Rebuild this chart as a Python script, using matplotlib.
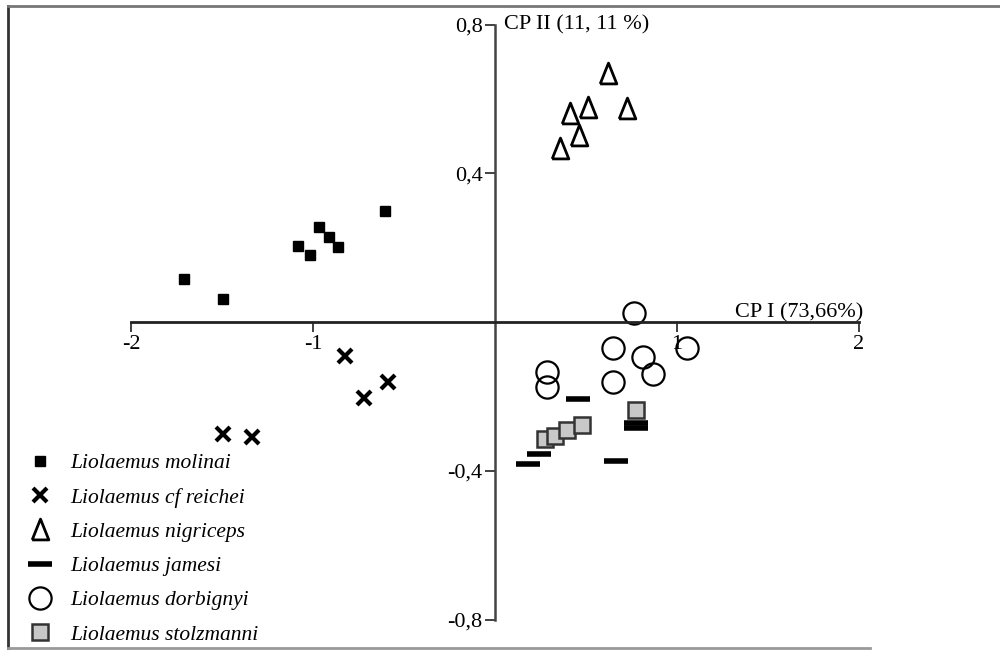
import matplotlib.pyplot as plt
from matplotlib.lines import Line2D

# ============================================================
# DATOS (CP I, CP II)
# ============================================================

molinai_x = [-1.709, -1.495, -1.082, -1.016, -0.967, -0.912, -0.863, -0.604]
molinai_y = [0.116, 0.062, 0.204, 0.180, 0.255, 0.228, 0.202, 0.298]

reichei_x = [-0.824, -0.588, -0.720, -1.495, -1.335]
reichei_y = [-0.091, -0.161, -0.204, -0.301, -0.309]

nigriceps_x = [0.621, 0.511, 0.412, 0.462, 0.357, 0.725]
nigriceps_y = [0.669, 0.578, 0.562, 0.503, 0.468, 0.575]

jamesi_x = [0.456, 0.775, 0.775, 0.242, 0.181, 0.665]
jamesi_y = [-0.207, -0.272, -0.285, -0.355, -0.382, -0.374]

dorbignyi_x = [0.764, 0.648, 0.813, 0.868, 0.648, 0.286, 0.286, 1.055]
dorbignyi_y = [0.024, -0.070, -0.094, -0.140, -0.161, -0.134, -0.175, -0.070]

stolzmanni_x = [0.275, 0.330, 0.396, 0.478, 0.775]
stolzmanni_y = [-0.313, -0.305, -0.290, -0.277, -0.237]

x_ticks = [-2, -1, 1, 2]
x_tick_labels = ["-2", "-1", "1", "2"]
y_ticks = [0.8, 0.4, -0.4, -0.8]
y_tick_labels = ["0,8", "0,4", "-0,4", "-0,8"]

species = [
    "Liolaemus molinai",
    "Liolaemus cf reichei",
    "Liolaemus nigriceps",
    "Liolaemus jamesi",
    "Liolaemus dorbignyi",
    "Liolaemus stolzmanni",
]

# ============================================================
# ESTILOS DE MARCADORES
# ============================================================

tri = [(-0.8, -1), (0.8, -1), (0, 1), (-0.8, -1)]  # triángulo algo estrecho

estilos = [
    dict(marker="s", ms=7, color="black"),
    dict(marker="x", ms=10, mew=3, color="black"),
    dict(marker=tri, ms=15, mfc="none", mec="black", mew=2),
    dict(marker="_", ms=17, mew=4, color="black"),
    dict(marker="o", ms=16, mfc="none", mec="black", mew=1.6),
    dict(marker="s", ms=11, mfc="#c8c8c8", mec="#333333", mew=1.8),
]

# ============================================================
# FIGURA
# ============================================================

plt.rcParams["font.family"] = ["Liberation Serif", "DejaVu Serif"]

fig = plt.figure(figsize=(10, 6.52), dpi=100)
ax = fig.add_axes([0, 0, 1, 1])
ax.set_xlim(-2.720, 2.775)
ax.set_ylim(-0.887, 0.866)

# ejes cruzados en el origen
for side in ["top", "right"]:
    ax.spines[side].set_visible(False)
ax.spines["left"].set_position(("data", 0))
ax.spines["bottom"].set_position(("data", 0))
ax.spines["left"].set_bounds(-0.8, 0.8)
ax.spines["bottom"].set_bounds(-2, 2)
ax.spines["left"].set_linewidth(1.8)
ax.spines["bottom"].set_linewidth(2.0)
ax.spines["left"].set_color("#444444")
ax.spines["bottom"].set_color("#222222")

ax.set_xticks(x_ticks)
ax.set_xticklabels(x_tick_labels)
ax.set_yticks(y_ticks)
ax.set_yticklabels(y_tick_labels)
ax.tick_params(axis="both", direction="out", length=7, width=1.3,
               labelsize=16, pad=2, color="#333333")

# puntos
series = [
    (molinai_x, molinai_y),
    (reichei_x, reichei_y),
    (nigriceps_x, nigriceps_y),
    (jamesi_x, jamesi_y),
    (dorbignyi_x, dorbignyi_y),
    (stolzmanni_x, stolzmanni_y),
]
orden = [0, 1, 2, 4, 5, 3]  # las barras de jamesi encima de los cuadrados
for i in orden:
    xs, ys = series[i]
    ax.plot(xs, ys, ls="none", **estilos[i])

# títulos de ejes
ax.text(0.05, 0.798, "CP II (11, 11 %)", fontsize=16, ha="left", va="center")
ax.text(1.32, 0.026, "CP I (73,66%)", fontsize=16, ha="left", va="center")

# leyenda
handles = [Line2D([], [], ls="none", **e) for e in estilos]
leg = ax.legend(handles, species, loc="upper left",
                bbox_to_anchor=(0.0154, 0.318), frameon=False,
                prop={"style": "italic", "size": 15.5},
                labelspacing=0.66, handlelength=1.5, handletextpad=0.65,
                borderaxespad=0)

# marco de la figura
fig.add_artist(Line2D([0.008, 0.008], [0.006, 0.991], color="#333333", lw=2,
                      transform=fig.transFigure))
fig.add_artist(Line2D([0.008, 1.0], [0.991, 0.991], color="#777777", lw=2,
                      transform=fig.transFigure))
fig.add_artist(Line2D([0.008, 0.87], [0.006, 0.006], color="#999999", lw=2,
                      transform=fig.transFigure))

fig.savefig("out.png", dpi=100)
